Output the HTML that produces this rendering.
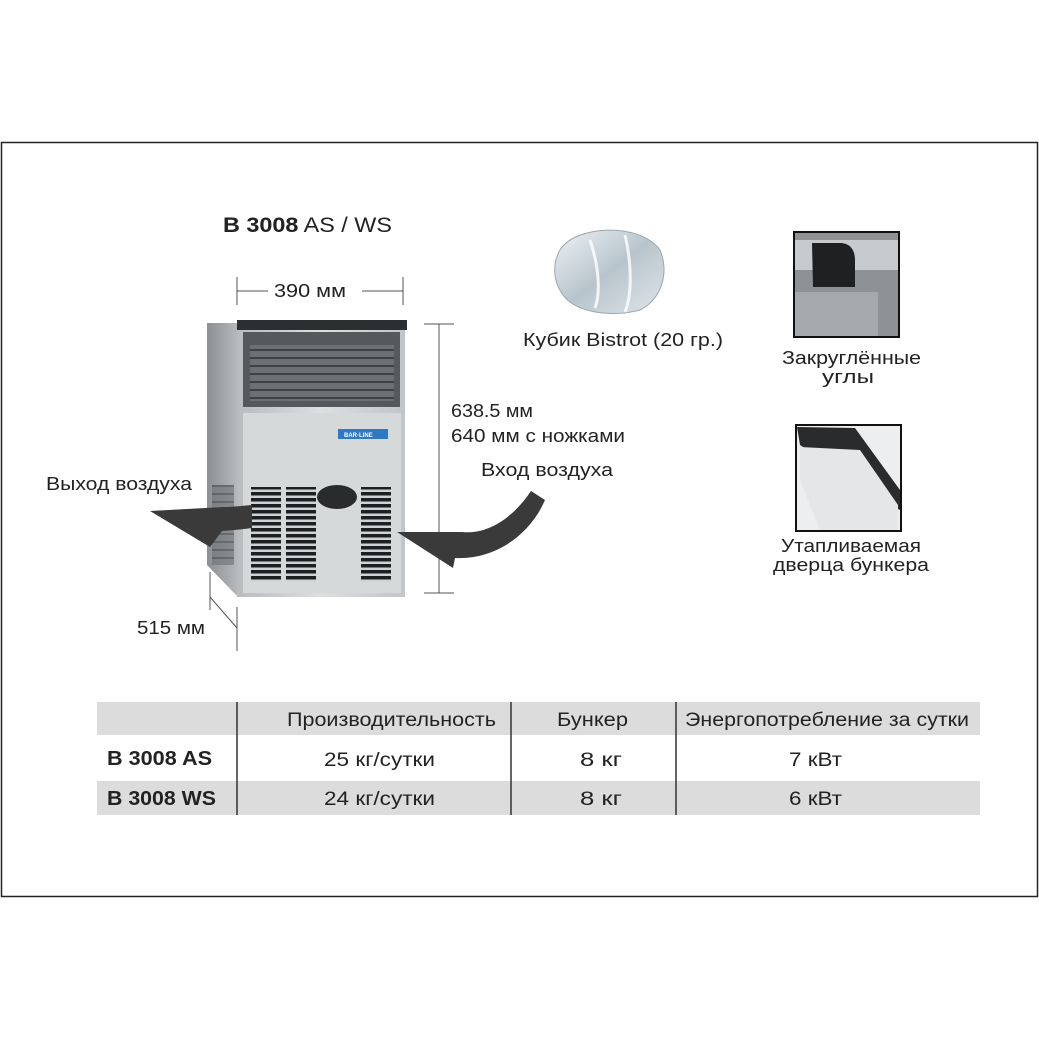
<!DOCTYPE html><html><head><meta charset="utf-8"><style>
body{margin:0;background:#fff;}
svg text{font-family:"Liberation Sans","DejaVu Sans",sans-serif;fill:#222;}
</style></head><body>
<svg width="1039" height="1039" viewBox="0 0 1039 1039" xmlns="http://www.w3.org/2000/svg">
<defs>
<linearGradient id="steel" x1="0" x2="1"><stop offset="0" stop-color="#b8bcbf"/><stop offset=".5" stop-color="#dcdfe0"/><stop offset="1" stop-color="#c2c5c7"/></linearGradient>
<linearGradient id="side" x1="0" x2="1"><stop offset="0" stop-color="#8c9093"/><stop offset="1" stop-color="#b5b8ba"/></linearGradient>
<linearGradient id="ice" x1="0" y1="0" x2="1" y2="1"><stop offset="0" stop-color="#eef3f6"/><stop offset=".5" stop-color="#b8c4cc"/><stop offset="1" stop-color="#dfe6ea"/></linearGradient>
<pattern id="vent" width="10" height="6" patternUnits="userSpaceOnUse"><rect width="10" height="6" fill="#d0d3d5"/><rect y="0" width="10" height="3.5" fill="#1e1f20"/></pattern>
<pattern id="grill" width="10" height="8" patternUnits="userSpaceOnUse"><rect width="10" height="8" fill="#6b7073"/><rect y="5" width="10" height="2" fill="#3e4244"/></pattern>
</defs>
<rect x="1.5" y="142.5" width="1036" height="754" fill="#fff" stroke="#222" stroke-width="1.5"/>
<text x="223" y="232" font-size="21" textLength="169" lengthAdjust="spacingAndGlyphs"><tspan font-weight="bold">B 3008</tspan> AS / WS</text>
<!-- width dim -->
<line x1="237" y1="277" x2="237" y2="305" stroke="#555"/><line x1="403" y1="277" x2="403" y2="305" stroke="#555"/>
<line x1="237" y1="291" x2="268" y2="291" stroke="#555"/><line x1="362" y1="291" x2="403" y2="291" stroke="#555"/>
<text x="274" y="297" font-size="18" textLength="72" lengthAdjust="spacingAndGlyphs">390  мм</text>
<!-- machine -->
<polygon points="207,323 237,323 237,596 207,565" fill="url(#side)"/>
<rect x="212" y="485" width="22" height="80" fill="url(#grill)" opacity=".6"/>
<rect x="237" y="320" width="168" height="277" fill="url(#steel)"/>
<rect x="237" y="320" width="170" height="10" fill="#2c2e30"/>
<rect x="243" y="332" width="157" height="75" fill="#55595c"/>
<rect x="250" y="345" width="144" height="56" fill="url(#grill)"/>
<rect x="243" y="413" width="158" height="180" fill="#d6d9da"/>
<rect x="338" y="429" width="50" height="10" fill="#2f78c4"/><text x="344" y="437" font-size="6" style="fill:#fff" font-weight="bold">BAR·LINE</text>
<rect x="251" y="487" width="30" height="95" fill="url(#vent)"/>
<rect x="286" y="487" width="30" height="95" fill="url(#vent)"/>
<rect x="361" y="487" width="30" height="95" fill="url(#vent)"/>
<ellipse cx="337" cy="497" rx="20" ry="12" fill="#2a2b2c"/>
<!-- height dim -->
<line x1="424" y1="324" x2="454" y2="324" stroke="#555"/><line x1="424" y1="593" x2="454" y2="593" stroke="#555"/><line x1="439" y1="324" x2="439" y2="593" stroke="#555"/>
<text x="451" y="417" font-size="18" textLength="82" lengthAdjust="spacingAndGlyphs">638.5 мм</text>
<text x="451" y="442" font-size="18" textLength="174" lengthAdjust="spacingAndGlyphs">640 мм с ножками</text>
<!-- depth dim -->
<line x1="210" y1="572" x2="210" y2="610" stroke="#555"/><line x1="237" y1="607" x2="237" y2="651" stroke="#555"/><line x1="210" y1="597" x2="237" y2="628" stroke="#555"/>
<text x="137" y="634" font-size="18" textLength="68" lengthAdjust="spacingAndGlyphs">515 мм</text>
<!-- arrows -->
<text x="46" y="490" font-size="18" textLength="146" lengthAdjust="spacingAndGlyphs">Выход воздуха</text>
<path d="M252,505 C240,506 232,507 224,507 L150,511 L210,547 L222,531 C235,530 245,529 252,528 Z" fill="#3a3a3a"/>
<text x="481" y="476" font-size="18" textLength="132" lengthAdjust="spacingAndGlyphs">Вход воздуха</text>
<path d="M531,491 C515,515 490,535 462,532 L397,532 L453,568 L455,558 C495,560 530,535 545,500 Z" fill="#3a3a3a"/>
<!-- ice -->
<path d="M560,250 C575,225 640,222 660,250 C670,275 660,300 640,310 C610,318 575,312 563,295 C552,280 553,262 560,250 Z" fill="url(#ice)" stroke="#9aa6ae"/>
<path d="M590,240 C600,270 600,295 595,308 M625,235 C632,265 632,295 625,312" stroke="#fff" stroke-width="3" fill="none" opacity=".8"/>
<text x="523" y="346" font-size="18" textLength="200" lengthAdjust="spacingAndGlyphs">Кубик Bistrot (20 гр.)</text>
<!-- feature 1 -->
<rect x="794" y="232" width="105" height="105" fill="#8e9295" stroke="#111" stroke-width="2"/>
<rect x="795" y="240" width="103" height="30" fill="#c8cbcd"/>
<path d="M812,243 L840,243 C850,243 855,250 855,260 L855,287 L813,287 Z" fill="#1f2022"/>
<rect x="795" y="292" width="83" height="44" fill="#a6a9ab"/>
<text x="782" y="364" font-size="18" textLength="139" lengthAdjust="spacingAndGlyphs">Закруглённые</text>
<text x="822" y="383" font-size="18" textLength="52" lengthAdjust="spacingAndGlyphs">углы</text>
<!-- feature 2 -->
<rect x="796" y="425" width="105" height="106" fill="#eceeef" stroke="#111" stroke-width="2"/>
<polygon points="797,427 855,428 900,490 900,510 880,500 800,445" fill="#2a2b2c"/>
<polygon points="800,447 860,450 898,505 898,530 820,530 800,480" fill="#e4e6e7"/>
<text x="781" y="552" font-size="18" textLength="140" lengthAdjust="spacingAndGlyphs">Утапливаемая</text>
<text x="773" y="571" font-size="18" textLength="156" lengthAdjust="spacingAndGlyphs">дверца бункера</text>
<!-- table -->
<rect x="97" y="702" width="883" height="33" fill="#dcdcdc"/>
<rect x="97" y="781" width="883" height="34" fill="#dcdcdc"/>
<line x1="237" y1="702" x2="237" y2="815" stroke="#333" stroke-width="1.5"/>
<line x1="511" y1="702" x2="511" y2="815" stroke="#333" stroke-width="1.5"/>
<line x1="676" y1="702" x2="676" y2="815" stroke="#333" stroke-width="1.5"/>
<text x="287" y="726" font-size="19" textLength="209" lengthAdjust="spacingAndGlyphs">Производительность</text>
<text x="557" y="726" font-size="19" textLength="71" lengthAdjust="spacingAndGlyphs">Бункер</text>
<text x="685" y="726" font-size="19" textLength="284" lengthAdjust="spacingAndGlyphs">Энергопотребление за сутки</text>
<text x="107" y="765" font-size="20" font-weight="bold" textLength="105" lengthAdjust="spacingAndGlyphs">B 3008 AS</text>
<text x="324" y="766" font-size="19" textLength="111" lengthAdjust="spacingAndGlyphs">25  кг/сутки</text>
<text x="580" y="766" font-size="19" textLength="42" lengthAdjust="spacingAndGlyphs">8  кг</text>
<text x="789" y="766" font-size="19" textLength="53" lengthAdjust="spacingAndGlyphs">7  кВт</text>
<text x="107" y="805" font-size="20" font-weight="bold" textLength="109" lengthAdjust="spacingAndGlyphs">B 3008 WS</text>
<text x="324" y="805" font-size="19" textLength="111" lengthAdjust="spacingAndGlyphs">24  кг/сутки</text>
<text x="580" y="805" font-size="19" textLength="42" lengthAdjust="spacingAndGlyphs">8  кг</text>
<text x="789" y="805" font-size="19" textLength="53" lengthAdjust="spacingAndGlyphs">6  кВт</text>
</svg>
</body></html>
